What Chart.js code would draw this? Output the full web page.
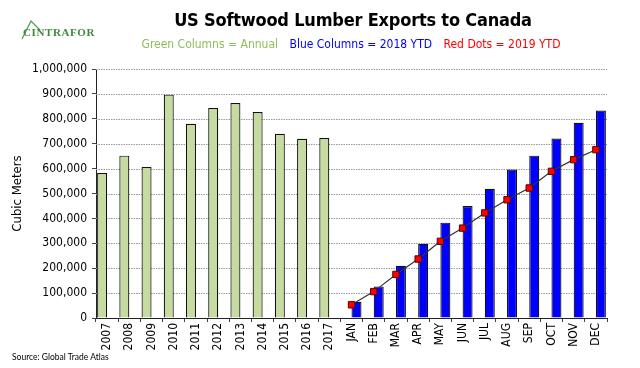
<!DOCTYPE html>
<html>
<head>
<meta charset="utf-8">
<script src="https://cdn.jsdelivr.net/npm/chart.js@4.4.1/dist/chart.umd.min.js"></script>
<style>
html, body { margin: 0; padding: 0; background: #fff; }
#wrap { position: relative; width: 640px; height: 368px; overflow: hidden;
  font-family: "DejaVu Sans Condensed", "DejaVu Sans", sans-serif; }
#chart { position: absolute; left: 0; top: 0; }
#title { position: absolute; left: 103px; width: 500px; top: 9px; text-align: center;
  font-weight: bold; font-size: 18px; letter-spacing: -0.2px; color: #000; white-space: nowrap; }
#legend { position: absolute; left: 101px; width: 500px; top: 37px; text-align: center;
  font-size: 12px; white-space: nowrap; }
#legend span { margin: 0 4px; }
#source { position: absolute; left: 12px; top: 352px; font-size: 8.5px; color: #000;
  font-family: Lato, "Open Sans", sans-serif; }
#logo { position: absolute; left: 14px; top: 18px; }
#logoText { position: absolute; left: 23px; top: 26px; font-family: "Liberation Serif", serif;
  font-weight: bold; font-size: 11px; color: #3e8a3a; letter-spacing: 0.6px; }
</style>
</head>
<body>
<div id="wrap">
  <canvas id="chart" width="640" height="368"></canvas>
  <svg id="logo" width="40" height="26" viewBox="0 0 40 26">
    <polyline points="8,21 17,3 26,12" fill="none" stroke="#4f9a4a" stroke-width="1.2"/>
  </svg>
  <div id="logoText">CINTRAFOR</div>
  <div id="title">US Softwood Lumber Exports to Canada</div>
  <div id="legend">
    <span style="color:#8fbc5a">Green Columns = Annual</span>
    <span style="color:#0000ff">Blue Columns = 2018 YTD</span>
    <span style="color:#ff0000">Red Dots = 2019 YTD</span>
  </div>
  <div id="source">Source: Global Trade Atlas</div>
</div>
<script>
var years = ['2007', '2008', '2009', '2010', '2011', '2012', '2013', '2014', '2015', '2016', '2017'];
var months = ['JAN', 'FEB', 'MAR', 'APR', 'MAY', 'JUN', 'JUL', 'AUG', 'SEP', 'OCT', 'NOV', 'DEC'];
var annual = [582000, 652000, 606000, 897000, 780000, 843000, 863000, 827000, 740000, 720000, 723000];
var ytd2018 = [65000, 127000, 210000, 298000, 383000, 450000, 519000, 596000, 652000, 721000, 784000, 833000];
var ytd2019 = [53000, 106000, 175000, 237000, 308000, 361000, 422000, 475000, 522000, 589000, 636000, 676000];

var etiquetas = years.concat(months);
var vacio_anual = years.map(function () { return null; });
var vacio_mes = months.map(function () { return null; });

var ctx = document.getElementById('chart').getContext('2d');
var fuente = '"DejaVu Sans Condensed", "DejaVu Sans", sans-serif';

var chart = new Chart(ctx, {
    type: 'bar',
    data: {
        labels: etiquetas,
        datasets: [{
            label: 'Annual',
            data: annual.concat(vacio_mes),
            backgroundColor: '#c5dba0',
            borderColor: '#111',
            borderWidth: 1.2,
            order: 2
        }, {
            label: '2018 YTD',
            data: vacio_anual.concat(ytd2018),
            backgroundColor: '#0000ff',
            borderColor: '#111',
            borderWidth: 1.2,
            order: 2
        }, {
            type: 'line',
            label: '2019 YTD',
            data: vacio_anual.concat(ytd2019),
            borderColor: '#333',
            borderWidth: 1.2,
            pointStyle: 'rect',
            pointRadius: 4.5,
            pointBackgroundColor: '#ff0000',
            pointBorderColor: '#5a0000',
            pointBorderWidth: 1,
            fill: false,
            order: 0
        }]
    },
    options: {
        responsive: false,
        animation: false,
        layout: { padding: { top: 69, right: 33, bottom: 0, left: 0 } },
        datasets: { bar: { categoryPercentage: 0.9, barPercentage: 1 } },
        plugins: { legend: { display: false }, tooltip: { enabled: false } },
        scales: {
            x: {
                afterFit: function (scale) { scale.height = 50; },
                grid: { display: true, drawOnChartArea: false, drawTicks: true, tickLength: 4, color: '#444', offset: true },
                border: { color: '#222', width: 1 },
                ticks: { minRotation: 90, maxRotation: 90, padding: 1, color: '#000', autoSkip: false,
                         font: { family: fuente, size: 12 } }
            },
            y: {
                min: 0,
                max: 1000000,
                afterFit: function (scale) { scale.width = 96; },
                grid: { color: '#9a9a9a', tickColor: '#444', tickLength: 4, drawTicks: true, drawOnChartArea: false },
                border: { color: '#222', width: 1 },
                ticks: { stepSize: 100000, padding: 5, color: '#000',
                         font: { family: fuente, size: 12 },
                         callback: function (v) { return v.toLocaleString('en-US'); } },
                title: { display: true, text: 'Cubic Meters', color: '#000', padding: { top: 10, bottom: 0 },
                         font: { family: fuente, size: 13 } }
            }
        }
    },
    plugins: [{
        id: 'punteado',
        beforeDatasetsDraw: function (c) {
            // lineas punteadas horizontales
            var y = c.scales.y, area = c.chartArea, g = c.ctx;
            g.save();
            g.strokeStyle = '#9a9a9a';
            g.lineWidth = 1;
            g.setLineDash([1.5, 1]);
            y.ticks.forEach(function (t) {
                if (t.value === 0) return;
                var py = Math.round(y.getPixelForValue(t.value)) + 0.5;
                g.beginPath();
                g.moveTo(area.left, py);
                g.lineTo(area.right, py);
                g.stroke();
            });
            g.restore();
        }
    }]
});
</script>
</body>
</html>
